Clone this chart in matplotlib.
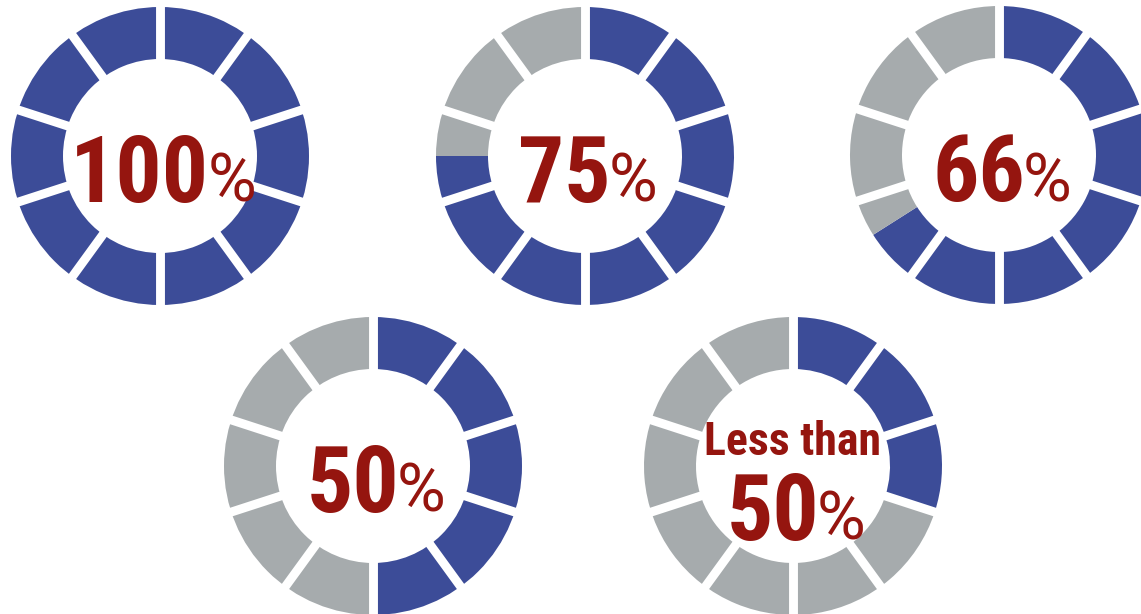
import matplotlib
matplotlib.use("Agg")
import matplotlib.pyplot as plt
from matplotlib.patches import Wedge
import numpy as np

# share of each ring drawn in blue (percent), and the text in the middle
shares = [100, 75, 66, 50, 30]
numbers = ["100", "75", "66", "50", "50"]
headers = ["", "", "", "", "Less than"]
n_segments = 10

# ring centres in pixels (y measured from the bottom)
centres = [(160, 458), (585, 458), (999, 459), (373, 148), (793, 148)]

BLUE = "#3C4C98"
GREY = "#A6ABAD"
RED = "#95150F"
R_OUT, R_IN = 149, 97

BOLD_FONT = ["Roboto Condensed", "Liberation Sans Narrow", "Roboto", "DejaVu Sans"]
PCT_FONT = ["Liberation Sans Narrow", "Roboto", "DejaVu Sans"]

W, H = 1141, 614
fig = plt.figure(figsize=(W / 100, H / 100), dpi=100)
ax = fig.add_axes([0, 0, 1, 1])
ax.set_xlim(0, W)
ax.set_ylim(0, H)
ax.axis("off")

texts = []
for share, num, head, (cx, cy) in zip(shares, numbers, headers, centres):
    split = 90 - share * 3.6
    # blue part runs clockwise from the top
    if share > 0:
        ax.add_patch(Wedge((cx, cy), R_OUT, split, 90, width=R_OUT - R_IN,
                           facecolor=BLUE, edgecolor="none"))
    if share < 100:
        ax.add_patch(Wedge((cx, cy), R_OUT, 90, split + 360, width=R_OUT - R_IN,
                           facecolor=GREY, edgecolor="none"))
    # white gaps between the segments
    for k in range(n_segments):
        a = np.deg2rad(90 - k * 360 / n_segments)
        ax.plot([cx + (R_IN - 3) * np.cos(a), cx + (R_OUT + 3) * np.cos(a)],
                [cy + (R_IN - 3) * np.sin(a), cy + (R_OUT + 3) * np.sin(a)],
                color="white", lw=6.4, solid_capstyle="butt")

    base = cy - 46 if not head else cy - 74
    t_num = ax.text(cx, base, num, family=BOLD_FONT, weight="bold",
                    fontsize=66, color=RED, ha="left", va="baseline")
    t_pct = ax.text(cx, base, "%", family=PCT_FONT, weight="normal",
                    fontsize=48, color=RED, ha="left", va="baseline")
    texts.append((t_num, t_pct, cx))
    if head:
        ax.text(cx, cy + 11, head, family=BOLD_FONT, weight="bold",
                fontsize=33, color=RED, ha="center", va="baseline")

# centre the number + percent sign as one group
fig.canvas.draw()
renderer = fig.canvas.get_renderer()
for t_num, t_pct, cx in texts:
    wn = t_num.get_window_extent(renderer).width
    wp = t_pct.get_window_extent(renderer).width
    left = cx + 4 - (wn + wp) / 2
    t_num.set_x(left)
    t_pct.set_x(left + wn - 2)

fig.savefig("out.png", dpi=100, facecolor="white")
